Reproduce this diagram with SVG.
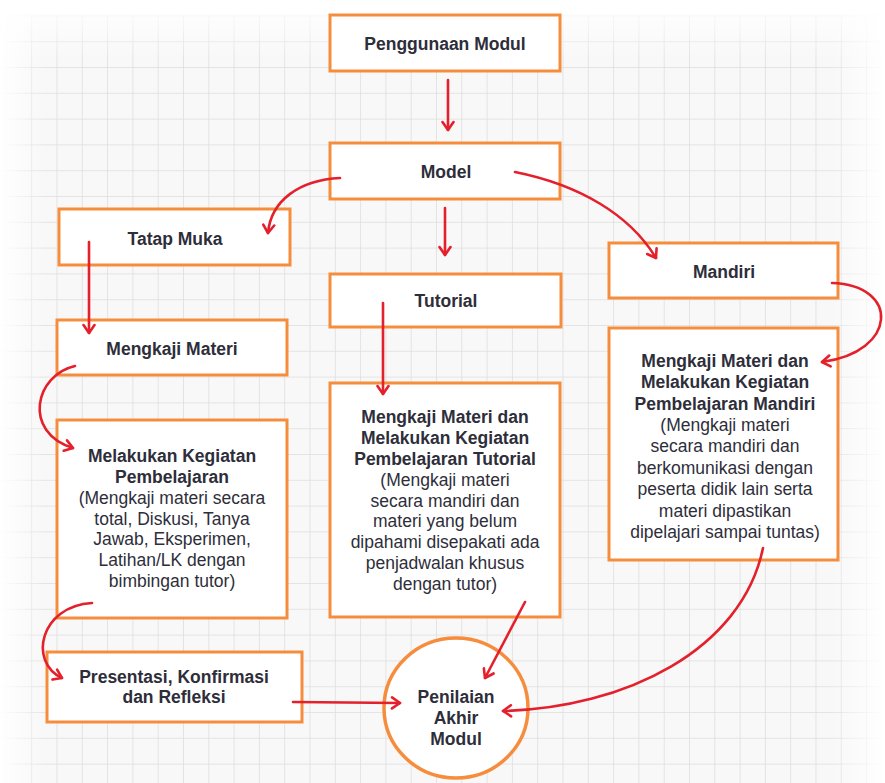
<svg xmlns="http://www.w3.org/2000/svg" width="885" height="783" viewBox="0 0 885 783">
<defs>
<pattern id="grid" x="5.9" y="15.4" width="25.3" height="25.8" patternUnits="userSpaceOnUse">
<path d="M0,0 H25.3 M0,0 V25.8" fill="none" stroke="#dedede" stroke-width="1.6"/>
</pattern>
<linearGradient id="fadeTop" x1="0" y1="0" x2="0" y2="1">
<stop offset="0" stop-color="#fff" stop-opacity="1"/>
<stop offset="1" stop-color="#fff" stop-opacity="0"/>
</linearGradient>
<linearGradient id="fadeLeft" x1="0" y1="0" x2="1" y2="0">
<stop offset="0" stop-color="#fff" stop-opacity="1"/>
<stop offset="1" stop-color="#fff" stop-opacity="0"/>
</linearGradient>
<linearGradient id="fadeRight" x1="1" y1="0" x2="0" y2="0">
<stop offset="0" stop-color="#fff" stop-opacity="1"/>
<stop offset="1" stop-color="#fff" stop-opacity="0"/>
</linearGradient>
<marker id="ah" viewBox="0 0 14 14" refX="11" refY="7" markerWidth="14" markerHeight="14" orient="auto" markerUnits="userSpaceOnUse">
<path d="M3,1.5 L11,7 L3,12.5" fill="none" stroke="#e3202b" stroke-width="2.6" stroke-linecap="round" stroke-linejoin="round"/>
</marker>
</defs>
<style>
.box{fill:#fff;stroke:#f58d3d;stroke-width:3}
.t{font-family:"Liberation Sans",Arial,sans-serif;font-size:17.5px;fill:#2e2e3a;text-anchor:middle}
.b{font-weight:bold}
.c{fill:none;stroke:#e3202b;stroke-width:2.6;stroke-linecap:round;marker-end:url(#ah)}
</style>
<rect width="885" height="783" fill="#f8f8f8"/>
<rect width="885" height="783" fill="url(#grid)"/>
<rect x="0" y="0" width="885" height="60" fill="url(#fadeTop)"/>
<rect x="0" y="0" width="45" height="783" fill="url(#fadeLeft)"/>
<rect x="830" y="0" width="55" height="783" fill="url(#fadeRight)"/>
<rect x="0" y="0" width="885" height="14" fill="#fff"/>

<g id="node-penggunaan">
<rect class="box" x="330" y="15" width="230" height="56"/>
<text class="t b" x="445" y="50">Penggunaan Modul</text>
</g>
<g id="node-model">
<rect class="box" x="330" y="143" width="230" height="56"/>
<text class="t b" x="446" y="178">Model</text>
</g>
<g id="node-tatapmuka">
<rect class="box" x="59" y="209" width="231" height="56"/>
<text class="t b" x="175" y="245">Tatap Muka</text>
</g>
<g id="node-tutorial">
<rect class="box" x="330" y="274" width="231" height="53"/>
<text class="t b" x="446" y="307">Tutorial</text>
</g>
<g id="node-mandiri">
<rect class="box" x="609" y="243" width="229" height="55"/>
<text class="t b" x="724" y="278">Mandiri</text>
</g>
<g id="node-mengkaji">
<rect class="box" x="57" y="320" width="230" height="55"/>
<text class="t b" x="172" y="355">Mengkaji Materi</text>
</g>
<g id="node-melakukan">
<rect class="box" x="57" y="420" width="230" height="198"/>
<text class="t b" x="172" y="462">Melakukan Kegiatan</text>
<text class="t b" x="172" y="483">Pembelajaran</text>
<text class="t" x="172" y="504">(Mengkaji materi secara</text>
<text class="t" x="172" y="525">total, Diskusi, Tanya</text>
<text class="t" x="172" y="545">Jawab, Eksperimen,</text>
<text class="t" x="172" y="566">Latihan/LK dengan</text>
<text class="t" x="172" y="587">bimbingan tutor)</text>
</g>
<g id="node-tutorial-detail">
<rect class="box" x="330" y="383" width="230" height="234"/>
<text class="t b" x="445" y="423">Mengkaji Materi dan</text>
<text class="t b" x="445" y="444">Melakukan Kegiatan</text>
<text class="t b" x="445" y="465">Pembelajaran Tutorial</text>
<text class="t" x="445" y="486">(Mengkaji materi</text>
<text class="t" x="445" y="507">secara mandiri dan</text>
<text class="t" x="445" y="527">materi yang belum</text>
<text class="t" x="445" y="548">dipahami disepakati ada</text>
<text class="t" x="445" y="569">penjadwalan khusus</text>
<text class="t" x="445" y="590">dengan tutor)</text>
</g>
<g id="node-mandiri-detail">
<rect class="box" x="609" y="328" width="229" height="232"/>
<text class="t b" x="725" y="367">Mengkaji Materi dan</text>
<text class="t b" x="725" y="388">Melakukan Kegiatan</text>
<text class="t b" x="725" y="410">Pembelajaran Mandiri</text>
<text class="t" x="725" y="431">(Mengkaji materi</text>
<text class="t" x="725" y="452">secara mandiri dan</text>
<text class="t" x="725" y="474">berkomunikasi dengan</text>
<text class="t" x="725" y="495">peserta didik lain serta</text>
<text class="t" x="725" y="517">materi dipastikan</text>
<text class="t" x="725" y="538">dipelajari sampai tuntas)</text>
</g>
<g id="node-presentasi">
<rect class="box" x="47" y="652" width="255" height="70"/>
<text class="t b" x="174" y="683">Presentasi, Konfirmasi</text>
<text class="t b" x="174" y="703">dan Refleksi</text>
</g>
<g id="node-penilaian">
<ellipse cx="456" cy="708" rx="72" ry="70" fill="#fff" stroke="#f58d3d" stroke-width="3.5"/>
<text class="t b" x="456" y="703">Penilaian</text>
<text class="t b" x="456" y="724">Akhir</text>
<text class="t b" x="456" y="745">Modul</text>
</g>

<g id="connectors">
<path class="c" d="M448,80 V130"/>
<path class="c" d="M340,178 C300,180 271,200 268,233"/>
<path class="c" d="M445,208 V255"/>
<path class="c" d="M515,172 C580,185 630,215 656,258"/>
<path class="c" d="M89,242 V333"/>
<path class="c" d="M75,366 C35,375 22,432 73,448"/>
<path class="c" d="M383,303 V394"/>
<path class="c" d="M832,283 C900,285 898,352 822,362"/>
<path class="c" d="M92,603 C40,606 28,662 62,678"/>
<path class="c" d="M293,702 L400,703"/>
<path class="c" d="M525,602 L485,678"/>
<path class="c" d="M763,548 C742,650 625,708 503,711"/>
</g>
</svg>
